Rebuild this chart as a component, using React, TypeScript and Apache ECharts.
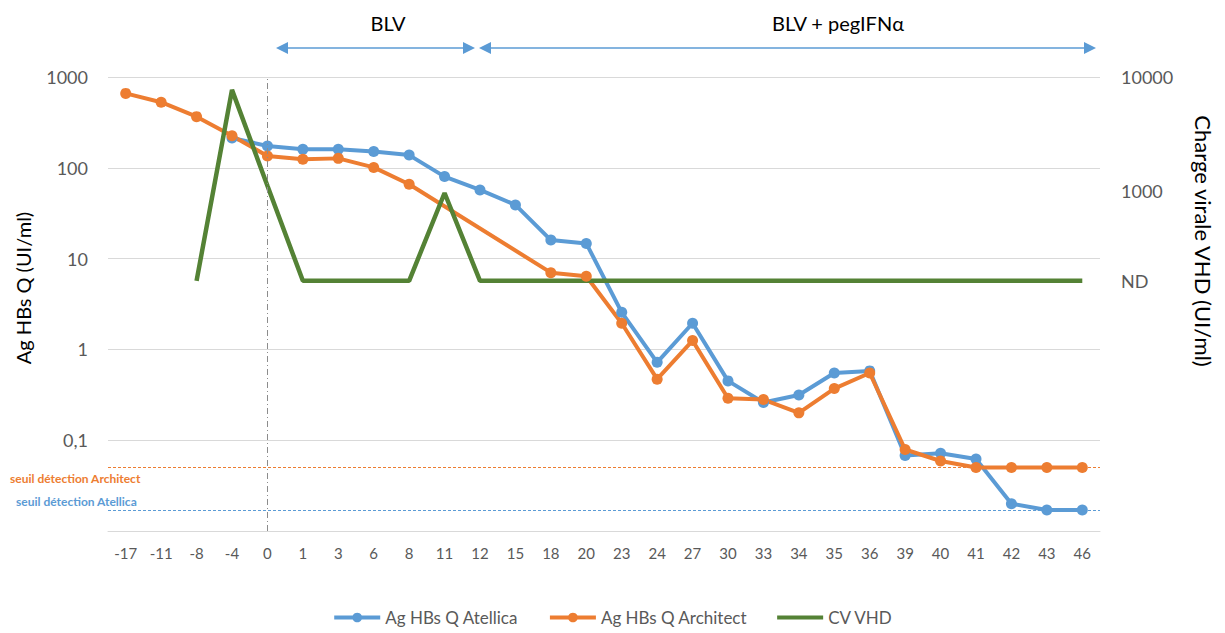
import React, { useEffect, useRef } from "react";
import * as echarts from "echarts";

const categories = ["-17", "-11", "-8", "-4", "0", "1", "3", "6", "8", "11", "12", "15", "18", "20", "23", "24", "27", "30", "33", "34", "35", "36", "39", "40", "41", "42", "43", "46"];

const atellica = [null, null, null, 213, 174, 160, 160, 151, 138, 80, 57, 39, 16, 14.7, 2.56, 0.72, 1.94, 0.45, 0.26, 0.315, 0.55, 0.58, 0.068, 0.072, 0.062, 0.02, 0.017, 0.017];

const architect = [660, 528, 366, 225, 135, 124, 127, 101, 66, null, null, null, 7.0, 6.4, 1.94, 0.47, 1.25, 0.29, 0.28, 0.2, 0.37, 0.55, 0.079, 0.059, 0.05, 0.05, 0.05, 0.05];

const ND = 160;
const cvVhd = [null, null, ND, 7700, 1100, ND, ND, ND, ND, 950, ND, ND, ND, ND, ND, ND, ND, ND, ND, ND, ND, ND, ND, ND, ND, ND, ND, ND];

const leftTicks = [0.1, 1, 10, 100, 1000];
const rightTicks = [ND, 1000, 10000];

const thresholdArchitect = 0.05;
const thresholdAtellica = 0.017;

const FONT = "Lato, 'Open Sans', sans-serif";
const BLUE = "#5b9bd5";
const ORANGE = "#ed7d31";
const GREEN = "#548235";
const GRAY = "#595959";

function arrow(x1: number, x2: number, y: number) {
  const h = 12;
  const w = 6;
  return [
    { type: "line", shape: { x1: x1 + h, y1: y, x2: x2 - h, y2: y }, style: { stroke: BLUE, lineWidth: 1.3 } },
    { type: "polygon", shape: { points: [[x1, y], [x1 + h, y - w], [x1 + h, y + w]] }, style: { fill: BLUE } },
    { type: "polygon", shape: { points: [[x2, y], [x2 - h, y - w], [x2 - h, y + w]] }, style: { fill: BLUE } },
  ];
}

export default function App() {
  const ref = useRef<HTMLDivElement>(null);
  useEffect(() => {
    if (!ref.current) return;
    const chart = echarts.init(ref.current, null, { renderer: "svg" });
    const zeroIndex = categories.indexOf("0");
    chart.setOption({
      animation: false,
      backgroundColor: "#ffffff",
      textStyle: { fontFamily: FONT },
      grid: { left: 108, right: 125, top: 77, bottom: 102, containLabel: false, outerBoundsMode: "none" },
      legend: {
        bottom: 2,
        left: "center",
        itemWidth: 46,
        itemHeight: 12,
        itemGap: 30,
        textStyle: { fontSize: 17, color: GRAY, fontFamily: FONT },
        lineStyle: { width: 4 },
        data: [
          { name: "Ag HBs Q Atellica" },
          { name: "Ag HBs Q Architect" },
          { name: "CV VHD", icon: "path://M0 0 H46 V4 H0 Z" },
        ],
      },
      xAxis: {
        type: "category",
        data: categories,
        boundaryGap: true,
        axisLine: { lineStyle: { color: "#d9d9d9", width: 1 } },
        axisTick: { show: false },
        axisLabel: { color: GRAY, fontSize: 15, margin: 14, interval: 0, fontFamily: FONT },
      },
      yAxis: [
        {
          type: "log",
          logBase: 10,
          min: 0.01,
          max: 1000,
          axisLine: { show: false },
          axisTick: { show: false },
          splitLine: { lineStyle: { color: "#d9d9d9", width: 1 } },
          axisLabel: {
            color: GRAY,
            fontSize: 18,
            margin: 20,
            fontFamily: FONT,
            formatter: (v: number) => {
              if (leftTicks.some((t) => Math.abs(t - v) < 1e-9 * Math.max(1, t))) {
                return v < 1 ? String(v).replace(".", ",") : String(Math.round(v));
              }
              return "";
            },
          },
        },
        {
          type: "log",
          logBase: 10,
          min: 1,
          max: 10000,
          position: "right",
          axisLine: { show: false },
          axisTick: { show: false },
          splitLine: { show: false },
          axisLabel: {
            color: GRAY,
            fontSize: 18,
            margin: 21,
            fontFamily: FONT,
            customValues: rightTicks,
            formatter: (v: number) => (Math.abs(v - ND) < 1e-6 ? "ND" : String(Math.round(v))),
          },
        },
      ],
      series: [
        {
          name: "Ag HBs Q Atellica",
          type: "line",
          yAxisIndex: 0,
          data: atellica,
          connectNulls: true,
          symbol: "circle",
          symbolSize: 11,
          lineStyle: { color: BLUE, width: 4 },
          itemStyle: { color: BLUE },
          markLine: {
            silent: true,
            symbol: "none",
            precision: 4,
            label: { show: false },
            lineStyle: { color: BLUE, width: 1, type: [3, 2] },
            data: [{ yAxis: thresholdAtellica }],
          },
        },
        {
          name: "Ag HBs Q Architect",
          type: "line",
          yAxisIndex: 0,
          data: architect,
          connectNulls: true,
          symbol: "circle",
          symbolSize: 11,
          lineStyle: { color: ORANGE, width: 4 },
          itemStyle: { color: ORANGE },
          markLine: {
            silent: true,
            symbol: "none",
            precision: 4,
            label: { show: false },
            lineStyle: { color: ORANGE, width: 1, type: [3, 2] },
            data: [{ yAxis: thresholdArchitect }],
          },
        },
        {
          name: "CV VHD",
          type: "line",
          yAxisIndex: 1,
          data: cvVhd,
          symbol: "none",
          lineStyle: { color: GREEN, width: 4.5 },
          itemStyle: { color: GREEN },
          markLine: {
            silent: true,
            symbol: "none",
            label: { show: false },
            lineStyle: { color: "#8c8c8c", width: 1, type: [6, 3, 1, 3] },
            data: [{ xAxis: zeroIndex }],
          },
        },
      ],
      graphic: [
        { type: "text", x: 388, y: 23, style: { text: "BLV", fontSize: 20, fill: "#000", fontFamily: FONT, align: "center", verticalAlign: "middle" } },
        { type: "text", x: 838, y: 23, style: { text: "BLV + pegIFNα", fontSize: 20, fill: "#000", fontFamily: FONT, align: "center", verticalAlign: "middle" } },
        ...arrow(276, 475, 48),
        ...arrow(479, 1096, 48),
        { type: "text", x: 10, y: 478, style: { text: "seuil détection Architect", fontSize: 12, fontWeight: "bold", fill: ORANGE, fontFamily: FONT, verticalAlign: "middle" } },
        { type: "text", x: 16, y: 501, style: { text: "seuil détection Atellica", fontSize: 12, fontWeight: "bold", fill: BLUE, fontFamily: FONT, verticalAlign: "middle" } },
        { type: "text", x: 23, y: 288, rotation: Math.PI / 2, style: { text: "Ag HBs Q (UI/ml)", fontSize: 20, fill: "#000", fontFamily: FONT, align: "center", verticalAlign: "middle" } },
        { type: "text", x: 1203, y: 241, rotation: -Math.PI / 2, style: { text: "Charge virale VHD (UI/ml)", fontSize: 22, fill: "#000", fontFamily: FONT, align: "center", verticalAlign: "middle" } },
      ],
    });
    return () => chart.dispose();
  }, []);
  return <div ref={ref} style={{ position: "fixed", left: 0, top: 0, width: 1225, height: 633, background: "#fff" }} />;
}
